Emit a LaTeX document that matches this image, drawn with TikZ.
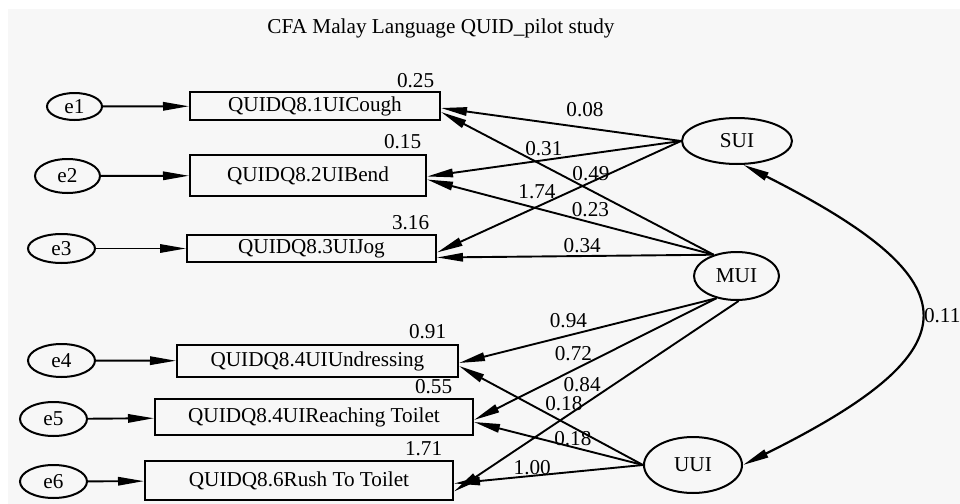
\documentclass[tikz,border=0pt]{standalone}
\usepackage{fontspec}
\setmainfont{Liberation Serif}
\usetikzlibrary{positioning,arrows.meta,shapes.geometric}
\definecolor{panel}{RGB}{247,247,247}

\begin{document}
\begin{tikzpicture}[
    x=0.5pt, y=-0.5pt,
    every node/.style={font=\fontsize{10.6}{12.7}\selectfont},
    amos/.tip={Triangle[length=13pt,width=4.2pt]},
    obs/.style={draw, line width=1pt, inner sep=0pt},
    err/.style={draw, ellipse, line width=1pt, inner sep=0pt},
    lat/.style={draw, ellipse, line width=1pt, inner sep=0pt},
    arr/.style={-amos, line width=0.95pt},
    cov/.style={amos-amos, line width=1.1pt},
    wt/.style={inner sep=0pt},
    var/.style={inner sep=0pt}
]
\useasboundingbox (0,0) rectangle (960,504);
\fill[panel] (8,9) rectangle (960,504);

\node (title) at (441,28) {CFA Malay Language QUID\_pilot study};

% observed items
\node[obs, minimum width=125pt, minimum height=14pt] (q1) at (315,106) {QUIDQ8.1UICough};
\node[obs, minimum width=118pt, minimum height=20.5pt] (q2) at (308,175.5) {QUIDQ8.2UIBend};
\node[obs, minimum width=124.5pt, minimum height=13.5pt] (q3) at (311.5,248.5) {QUIDQ8.3UIJog};
\node[obs, minimum width=140.5pt, minimum height=16pt] (q4) at (317.5,361) {QUIDQ8.4UIUndressing};
\node[obs, minimum width=159pt, minimum height=18pt] (q5) at (314,417) {QUIDQ8.4UIReaching Toilet};
\node[obs, minimum width=154pt, minimum height=19.5pt] (q6) at (299,480.5) {QUIDQ8.6Rush To Toilet};

% squared multiple correlations
\node[var, above left=1.4pt and 3.25pt of q1.north east] (v1) {0.25};
\node[var, above left=2.4pt and 2.75pt of q2.north east] (v2) {0.15};
\node[var, above left=1.9pt and 3.75pt of q3.north east] (v3) {3.16};
\node[var, above left=2.4pt and 6.25pt of q4.north east] (v4) {0.91};
\node[var, above left=1.9pt and 10.75pt of q5.north east] (v5) {0.55};
\node[var, above left=1.9pt and 5.75pt of q6.north east] (v6) {1.71};

% error terms
\node[err, minimum width=27.5pt, minimum height=13.5pt] (e1) at (74.5,106.5) {e1};
\node[err, minimum width=32.5pt, minimum height=17pt] (e2) at (67.5,176) {e2};
\node[err, minimum width=33.5pt, minimum height=14.5pt] (e3) at (61.5,248.5) {e3};
\node[err, minimum width=33.5pt, minimum height=16.5pt] (e4) at (61.5,360.5) {e4};
\node[err, minimum width=33.5pt, minimum height=17pt] (e5) at (53.5,419) {e5};
\node[err, minimum width=33.5pt, minimum height=16.5pt] (e6) at (53.5,481.5) {e6};

% latent factors
\node[lat, minimum width=55pt, minimum height=23pt] (SUI) at (737,141) {SUI};
\node[lat, minimum width=42.5pt, minimum height=24pt] (MUI) at (736.5,276) {MUI};
\node[lat, minimum width=49pt, minimum height=28pt] (UUI) at (693,465) {UUI};

\draw[arr] (e1) -- (q1);
\draw[arr] (e2) -- (q2);
\draw[arr] (e3) -- (q3);
\draw[arr] (e4) -- (q4);
\draw[arr] (e5) -- (q5);
\draw[arr] (e6) -- (q6);

\draw[arr] (SUI.west) -- node[wt, pos=.40, above=4.8pt]{0.08} ([yshift=-1pt]q1.east);
\draw[arr] (SUI.west) -- node[wt, pos=.54, above=1.6pt]{0.31} ([yshift=-0.5pt]q2.east);
\draw[arr] (SUI.west) -- node[wt, pos=.59, above=3.5pt]{1.74} ([yshift=-2pt]q3.east);

\draw[arr] (MUI.137) -- node[wt, pos=.45, above=4.4pt]{0.49} ([yshift=-3pt]q1.east);
\draw[arr] (MUI.137) -- node[wt, pos=.43, above=2.1pt]{0.23} ([yshift=-2pt]q2.east);
\draw[arr] (MUI.137) -- node[wt, pos=.475, above=0.9pt]{0.34} ([yshift=-4.5pt]q3.east);
\draw[arr] (MUI.228) -- node[wt, pos=.575, above=3.6pt]{0.94} ([yshift=-1pt]q4.east);
\draw[arr] (MUI.228) -- node[wt, pos=.59, above=4.4pt]{0.72} ([yshift=-1.5pt]q5.east);
\draw[arr] (MUI.275) -- node[wt, pos=.55, above=6.4pt]{0.84} ([yshift=-5.5pt]q6.east);

\draw[arr] (UUI.west) -- node[wt, pos=.43, above=5.1pt]{0.18} ([yshift=-2.5pt]q4.east);
\draw[arr] (UUI.west) -- node[wt, pos=.415, above=0pt]{0.18} ([yshift=-2.5pt]q5.east);
\draw[arr] (UUI.west) -- node[wt, pos=.586, above=0pt]{1.00} ([yshift=-1.5pt]q6.east);

\draw[cov] (SUI.285) .. controls (975.7,282) and (976.7,349) .. (UUI.east)
    node[wt, pos=.5, right=2.5pt]{0.11};
\end{tikzpicture}
\end{document}
